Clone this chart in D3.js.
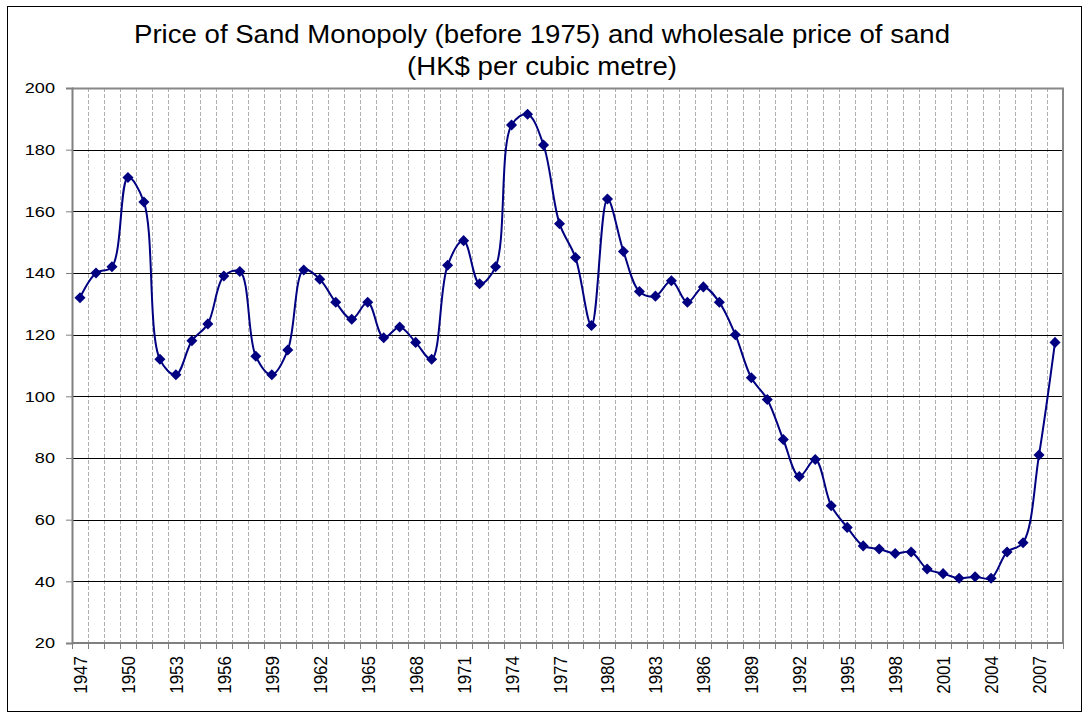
<!DOCTYPE html>
<html>
<head>
<meta charset="utf-8">
<script src="https://cdn.jsdelivr.net/npm/d3@7"></script>
<style>
  body { margin: 0; background: #fff; }
  text { font-family: "Liberation Sans", Arial, sans-serif; fill: #000; }
</style>
</head>
<body>
<svg id="chart" width="1089" height="717"></svg>
<script>
// Years 1947..2008, one point per year
var years = d3.range(1947, 2009);
var prices = [
  132, 140, 142, 171, 163, 112, 107, 118, 123.5, 139,
  140.5, 113, 107, 115, 141, 138, 130.5, 125, 130.5, 119,
  122.5, 117.5, 112, 142.5, 150.5, 136.5, 142, 188, 191.5, 181.5,
  156, 145, 123, 164, 147, 134, 132.5, 137.5, 130.5, 135.5,
  130.5, 120, 106, 99, 86, 74, 79.5, 64.5, 57.5, 51.5,
  50.5, 49, 49.5, 44, 42.5, 41, 41.5, 41, 49.5, 52.5,
  81, 117.5
];
var yTicks = [20, 40, 60, 80, 100, 120, 140, 160, 180, 200];
var titleLines = [
  "Price of Sand Monopoly (before 1975) and wholesale price of sand",
  "(HK$ per cubic metre)"
];

var svg = d3.select("#chart");
var margin = { top: 88, left: 72, right: 26, bottom: 74 };
var width = 1089 - margin.left - margin.right,
    height = 717 - margin.top - margin.bottom;

// outer frame
svg.append("rect")
    .attr("x", 7.5).attr("y", 6.5)
    .attr("width", 1074).attr("height", 705)
    .attr("fill", "none").attr("stroke", "#000").attr("stroke-width", 1);

// the source picture is a little wider than tall, so text is stretched
svg.selectAll("text.title")
    .data(titleLines)
    .enter().append("text")
    .attr("class", "title")
    .attr("transform", function(d, i) {
        return "translate(542," + (43 + i * 32) + ") scale(1.07,1)";
    })
    .attr("text-anchor", "middle")
    .style("font-size", "25.8px")
    .text(function(d) { return d; });

var g = svg.append("g")
    .attr("transform", "translate(" + margin.left + "," + margin.top + ")");

var x = d3.scaleBand().domain(years).range([0, width]);
var y = d3.scaleLinear().domain([20, 200]).range([height, 0]);

// vertical dashed gridlines at category boundaries
g.selectAll("line.vgrid")
    .data(years.slice(1))
    .enter().append("line")
    .attr("class", "vgrid")
    .attr("x1", function(d) { return Math.round(x(d)) + 0.5; })
    .attr("x2", function(d) { return Math.round(x(d)) + 0.5; })
    .attr("y1", 0).attr("y2", height)
    .attr("stroke", "#b0b0b0").attr("stroke-dasharray", "4,2");

// horizontal gridlines
g.selectAll("line.hgrid")
    .data(yTicks.slice(1))
    .enter().append("line")
    .attr("class", "hgrid")
    .attr("x1", 0).attr("x2", width)
    .attr("y1", function(d) { return Math.round(y(d)) + 0.5; })
    .attr("y2", function(d) { return Math.round(y(d)) + 0.5; })
    .attr("stroke", "#000");

// plot border (top/right)
g.append("path")
    .attr("d", "M0,0.5H" + width + "V" + height)
    .attr("fill", "none").attr("stroke", "#888").attr("stroke-width", 2);

// y axis
var yAxis = g.append("g")
    .call(d3.axisLeft(y).tickValues(yTicks).tickSize(6).tickPadding(0));
yAxis.select(".domain").attr("stroke", "#808080").attr("stroke-width", 2);
yAxis.selectAll(".tick line").attr("stroke", "#808080");
yAxis.selectAll("text")
    .attr("x", null)
    .attr("transform", "translate(-17,0) scale(1.17,1)")
    .style("font-size", "15.5px");

// x axis: ticks on boundaries, labels every third year
var xAxisG = g.append("g").attr("transform", "translate(0," + height + ")");
xAxisG.append("line")
    .attr("x1", 0).attr("x2", width).attr("y1", 0).attr("y2", 0)
    .attr("stroke", "#808080").attr("stroke-width", 2);
xAxisG.selectAll("line.tick")
    .data(years.concat([2009]))
    .enter().append("line")
    .attr("class", "tick")
    .attr("x1", function(d, i) { return Math.round(i * x.step()) + 0.5; })
    .attr("x2", function(d, i) { return Math.round(i * x.step()) + 0.5; })
    .attr("y1", 0).attr("y2", 6)
    .attr("stroke", "#808080");
xAxisG.selectAll("text.xlab")
    .data(years.filter(function(d, i) { return i % 3 === 0; }))
    .enter().append("text")
    .attr("class", "xlab")
    .attr("transform", function(d) {
        return "translate(" + (x(d) + x.bandwidth() / 2 + 7) + ",13) scale(1.12,1) rotate(-90)";
    })
    .attr("text-anchor", "end")
    .style("font-size", "17px")
    .text(function(d) { return d; });

// smoothed line
var line = d3.line()
    .x(function(d, i) { return x(years[i]) + x.bandwidth() / 2; })
    .y(function(d) { return y(d); })
    .curve(d3.curveCatmullRom.alpha(0.5));

g.append("path")
    .datum(prices)
    .attr("d", line)
    .attr("fill", "none")
    .attr("stroke", "#000080")
    .attr("stroke-width", 2);

// diamond markers
var diamond = d3.symbol().type(d3.symbolDiamond2).size(78);
g.selectAll("path.marker")
    .data(prices)
    .enter().append("path")
    .attr("class", "marker")
    .attr("d", diamond)
    .attr("transform", function(d, i) {
        return "translate(" + (x(years[i]) + x.bandwidth() / 2) + "," + y(d) + ")";
    })
    .attr("fill", "#000080");
</script>
</body>
</html>
